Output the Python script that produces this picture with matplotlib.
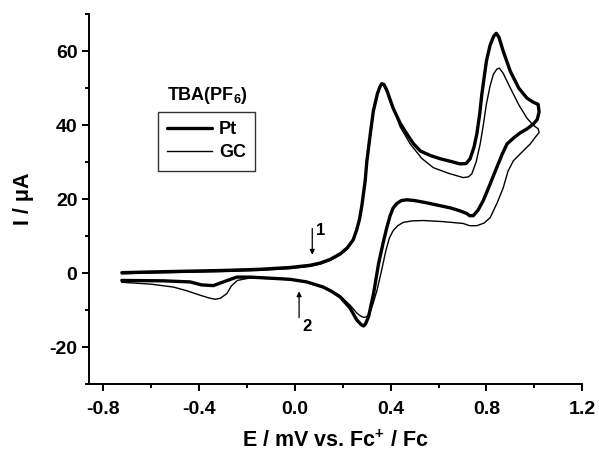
import matplotlib
matplotlib.use("Agg")
import matplotlib.pyplot as plt
from matplotlib.ticker import MultipleLocator

plt.rcParams['font.family'] = ['Liberation Sans', 'DejaVu Sans']
plt.rcParams['font.weight'] = 'bold'
plt.rcParams['axes.unicode_minus'] = False
plt.rcParams['mathtext.fontset'] = 'custom'
plt.rcParams['mathtext.rm'] = 'Liberation Sans:bold'
plt.rcParams['mathtext.bf'] = 'Liberation Sans:bold'
plt.rcParams['mathtext.it'] = 'Liberation Sans:bold'

# Pt electrode: forward then reverse scan (E in V vs Fc+/Fc, I in uA)
pt_E = [-0.722, -0.6, -0.45, -0.3, -0.15, -0.02, 0.064, 0.106, 0.148, 0.19, 0.219, 0.244,
        0.259, 0.27, 0.28, 0.294, 0.301, 0.315, 0.328, 0.345, 0.355, 0.363, 0.372, 0.385,
        0.40, 0.411, 0.44, 0.468, 0.495, 0.524, 0.565, 0.607, 0.65, 0.69, 0.715, 0.732,
        0.748, 0.76, 0.772, 0.781, 0.80, 0.815, 0.83, 0.841, 0.852, 0.87, 0.90, 0.935,
        0.969, 0.995, 1.016,
        1.02, 1.012, 0.996, 0.97, 0.941, 0.915, 0.886, 0.865, 0.843, 0.815, 0.787, 0.765,
        0.745, 0.73, 0.718, 0.69, 0.65, 0.607, 0.55, 0.50, 0.468, 0.445, 0.426, 0.41,
        0.398, 0.385, 0.37, 0.35, 0.329, 0.308, 0.295, 0.287, 0.278, 0.268, 0.259, 0.231,
        0.19, 0.155, 0.119, 0.05, -0.019, -0.1, -0.186, -0.242, -0.29, -0.34, -0.39,
        -0.437, -0.55, -0.722]
pt_I = [0.1, 0.3, 0.5, 0.7, 1.0, 1.5, 2.1, 2.7, 3.7, 5.2, 6.8, 9.0,
        11.8, 14.5, 18.2, 25.0, 30.3, 37.5, 43.8, 48.5, 50.3, 51.2, 51.0, 49.3,
        46.5, 44.5, 40.5, 37.6, 35.0, 33.0, 31.8, 30.9, 30.2, 29.5, 29.6, 30.9,
        34.0, 37.6, 43.0, 48.4, 57.3, 61.5, 64.0, 64.8, 63.8, 60.0, 54.5, 50.0,
        47.3, 46.2, 45.6,
        43.5, 41.5, 40.3, 39.0, 37.9, 36.6, 34.9, 32.0, 28.5, 24.0, 19.6, 17.0,
        15.5, 15.5, 16.1, 16.8, 17.6, 18.2, 19.0, 19.6, 19.8, 19.6, 18.8, 17.5,
        15.5, 12.5, 8.5, 2.6, -5.5, -11.8, -13.8, -14.3, -14.0, -13.3, -12.7, -9.5,
        -6.5, -5.0, -3.8, -2.4, -1.7, -1.4, -1.1, -1.1, -2.2, -3.4, -3.2,
        -2.4, -2.1, -2.0]

# Glassy carbon electrode: forward then reverse scan
gc_E = [-0.722, -0.6, -0.45, -0.3, -0.15, -0.02, 0.064, 0.106, 0.148, 0.19, 0.219, 0.244,
        0.259, 0.27, 0.28, 0.294, 0.301, 0.315, 0.328, 0.345, 0.355, 0.363, 0.372, 0.385,
        0.40, 0.41, 0.44, 0.482, 0.53, 0.578, 0.64, 0.703, 0.725, 0.739, 0.757, 0.774,
        0.787, 0.80, 0.815, 0.829, 0.843, 0.854, 0.87, 0.90, 0.935, 0.969, 0.995, 1.016,
        1.02, 1.005, 0.983, 0.95, 0.912, 0.89, 0.87, 0.845, 0.816, 0.79, 0.76, 0.73,
        0.703, 0.62, 0.536, 0.49, 0.453, 0.43, 0.411, 0.395, 0.38, 0.36, 0.343, 0.328,
        0.315, 0.30, 0.29, 0.28, 0.268, 0.259, 0.231, 0.19, 0.155, 0.119, 0.05, -0.019,
        -0.1, -0.186, -0.24, -0.265, -0.283, -0.31, -0.332, -0.36, -0.395, -0.45, -0.506,
        -0.6, -0.722]
gc_I = [-0.2, 0.0, 0.2, 0.4, 0.7, 1.2, 1.8, 2.4, 3.4, 4.9, 6.5, 8.7,
        11.5, 14.2, 17.9, 24.7, 30.0, 37.2, 43.5, 48.2, 50.0, 50.9, 50.7, 49.0,
        46.0, 45.0, 39.5, 34.9, 31.0, 28.5, 27.0, 25.8, 26.0, 26.8, 30.0, 34.9,
        40.0, 45.7, 50.5, 53.7, 55.1, 55.4, 54.0, 50.0, 45.5, 41.9, 40.0, 39.0,
        38.0, 36.8, 34.9, 32.8, 30.3, 27.5, 23.0, 19.0, 15.0, 13.5, 12.8, 12.8,
        13.4, 13.9, 14.2, 14.1, 13.7, 12.8, 11.5, 9.5, 6.0, 0.0, -4.7, -8.0,
        -10.5, -11.8, -12.0, -11.8, -11.3, -10.8, -8.7, -6.2, -4.8, -3.7, -2.4, -1.8,
        -1.5, -1.3, -2.0, -3.5, -5.5, -6.8, -7.1, -6.7, -6.0, -4.8, -3.8,
        -3.0, -2.5]

x_ticks = [-0.8, -0.4, 0.0, 0.4, 0.8, 1.2]
x_ticklabels = ['-0.8', '-0.4', '0.0', '0.4', '0.8', '1.2']
y_ticks = [-20, 0, 20, 40, 60]
y_ticklabels = ['-20', '0', '20', '40', '60']

fig = plt.figure(figsize=(5.99, 4.55), dpi=100)
ax = fig.add_axes([0.149, 0.156, 0.823, 0.813])

ax.plot(pt_E, pt_I, color='black', lw=2.4, label='Pt',
        solid_joinstyle='round', solid_capstyle='round')
ax.plot(gc_E, gc_I, color='black', lw=1.0, label='GC', solid_joinstyle='round')

ax.set_xlim(-0.858, 1.2)
ax.set_ylim(-30, 70)
ax.set_xticks(x_ticks)
ax.set_xticklabels(x_ticklabels)
ax.set_yticks(y_ticks)
ax.set_yticklabels(y_ticklabels)
ax.xaxis.set_minor_locator(MultipleLocator(0.2))
ax.yaxis.set_minor_locator(MultipleLocator(10))

for s in ['top', 'right']:
    ax.spines[s].set_visible(False)
for s in ['left', 'bottom']:
    ax.spines[s].set_linewidth(1.4)

ax.tick_params(axis='x', which='major', pad=7)
ax.tick_params(which='major', direction='out', length=5, width=1.4, labelsize=14)
ax.tick_params(which='minor', direction='out', length=3, width=1.4)
for lab in ax.get_xticklabels() + ax.get_yticklabels():
    lab.set_fontweight('bold')

ax.set_xlabel('E / mV vs. Fc$^{+}$ / Fc', fontsize=15.5, fontweight='bold', labelpad=9)
ax.set_ylabel('I / μA', fontsize=15.5, fontweight='bold', labelpad=11)

leg = ax.legend(loc='upper left', bbox_to_anchor=(0.14, 0.735), fontsize=13,
                frameon=True, fancybox=False, handlelength=2.5, borderpad=0.5,
                labelspacing=0.35, handletextpad=0.35, borderaxespad=0)
leg.get_frame().set_edgecolor('black')
leg.get_frame().set_linewidth(1.0)
for t in leg.get_texts():
    t.set_fontweight('bold')
ax.text(0.24, 0.78, 'TBA(PF$_{6}$)', transform=ax.transAxes, ha='center', va='center',
        fontsize=13, fontweight='bold')

ax.annotate('', xy=(0.073, 4.2), xytext=(0.073, 12.8),
            arrowprops=dict(arrowstyle='-|>', lw=0.9, color='black', mutation_scale=7))
ax.text(0.088, 11.5, '1', fontsize=12, fontweight='bold', ha='left', va='center')
ax.annotate('', xy=(0.018, -4.2), xytext=(0.018, -12.8),
            arrowprops=dict(arrowstyle='-|>', lw=0.9, color='black', mutation_scale=7))
ax.text(0.032, -14.5, '2', fontsize=12, fontweight='bold', ha='left', va='center')

fig.savefig('out.png', dpi=100)
